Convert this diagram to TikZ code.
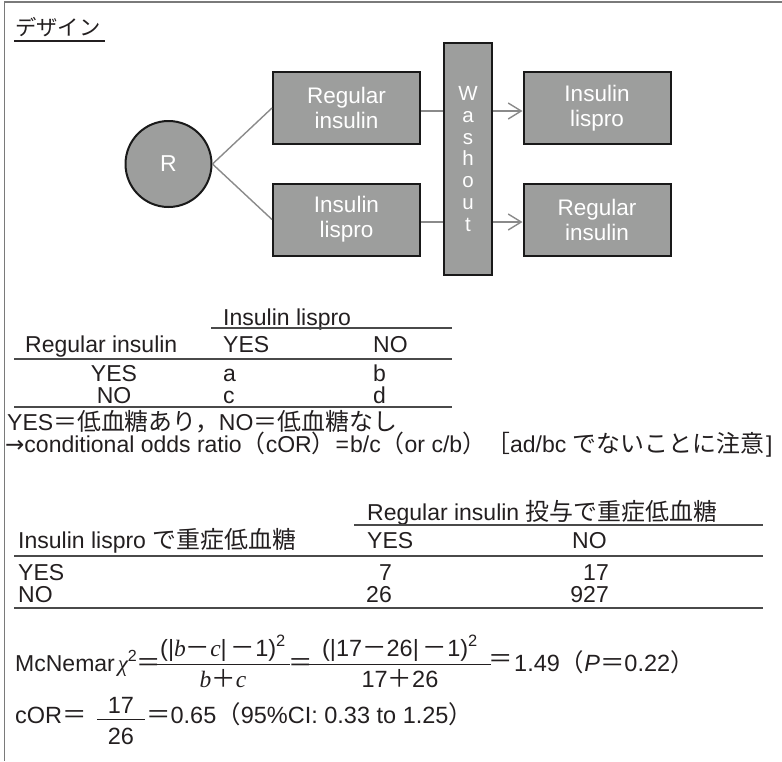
\documentclass[tikz,border=0pt]{standalone}
\usepackage{fontspec}
\setmainfont{Liberation Sans}
\newfontfamily\jp[Scale=1.04]{Noto Sans CJK JP}
\newfontfamily\mserif{Liberation Serif}
\newfontfamily\dv{DejaVu Sans}
\usetikzlibrary{arrows.meta}
\definecolor{boxgray}{HTML}{9D9E9D}
\definecolor{linkgray}{HTML}{8A8A8A}
\definecolor{rulegray}{HTML}{4A4A4A}
\definecolor{framegray}{HTML}{7A7A7A}
\definecolor{ink}{HTML}{231F20}
\newcommand{\fs}[1]{\fontsize{#1}{#1}\selectfont}
\newcommand{\vi}[1]{{\mserif\itshape #1}}
\begin{document}
\begin{tikzpicture}[x=1pt,y=-1pt,
  txt/.style={inner sep=0pt, anchor=base west, text=ink, font=\fs{23}},
  ctxt/.style={txt, anchor=base},
  rtxt/.style={txt, anchor=base east},
  ftxt/.style={txt, font=\fs{23.5}},
  cftxt/.style={ftxt, anchor=base},
  box/.style={draw=black!90, line width=2pt, fill=boxgray, text=white,
    minimum width=147pt, minimum height=72pt, align=center, inner sep=0pt,
    font=\fontsize{22.5}{25}\selectfont},
  link/.style={draw=linkgray, line width=1.4pt},
  arr/.style={link, -{Straight Barb[length=13pt,width=16pt,line width=1.4pt]}},
  rulel/.style={draw=rulegray, line width=1.2pt},
  fbar/.style={draw=ink, line width=1pt}]
\useasboundingbox (0,0) rectangle (782,761);
% frame
\draw[framegray, line width=1.5pt] (782,2) -- (4.5,2) -- (4.5,761);

% title
\node[txt, font=\fs{20.5}] (title) at (15,35) {\jp デザイン};
\draw[ink, line width=1.1pt] (14,41) -- (105,41);

% design diagram
\node[circle, draw=black!90, line width=2pt, fill=boxgray, text=white,
  minimum size=86pt, inner sep=0pt, font=\fs{23}] (R) at (168.5,164) {R};
\node[box] (b1) at (346.5,108) {Regular\\insulin};
\node[box] (b2) at (346.5,219.5) {Insulin\\lispro};
\node[box] (b3) at (597,108) {Insulin\\lispro};
\node[box] (b4) at (597,219.5) {Regular\\insulin};
\node[draw=black!90, line width=2pt, fill=boxgray, text=white,
  minimum width=48pt, minimum height=232pt, inner sep=0pt, align=center,
  font=\fontsize{20.5}{21.7}\selectfont] (wash) at (468,159)
  {W\\a\\s\\h\\o\\u\\t};
\draw[link] (R.east) -- (b1.west);
\draw[link] (R.east) -- (b2.west);
\coordinate (l1) at ([yshift=-3pt]b1.east);
\coordinate (l2) at ([yshift=-2.5pt]b2.east);
\draw[link] (l1) -- (l1 -| wash.west);
\draw[link] (l2) -- (l2 -| wash.west);
\draw[arr] (l1 -| wash.east) -- (l1 -| b3.west);
\draw[arr] (l2 -| wash.east) -- (l2 -| b4.west);

% table 1
\node[txt] (t1h) at (223,325) {Insulin lispro};
\draw[rulel] (211,328) -- (452,328);
\node[txt] (t1r) at (25,352) {Regular insulin};
\node[txt] (t1y) at (223,352) {YES};
\node[txt] (t1n) at (373,352) {NO};
\draw[rulel] (14,359) -- (452,359);
\node[ctxt] (t1ry) at (114,381) {YES};
\node[txt] (t1a) at (223,381) {a};
\node[txt] (t1b) at (373,381) {b};
\node[ctxt] (t1rn) at (114,403) {NO};
\node[txt] (t1c) at (223,403) {c};
\node[txt] (t1d) at (373,403) {d};
\draw[rulel] (14,407) -- (452,407);
\node[txt] (fn1) at (7,430) {YES{\jp ＝低血糖あり，}NO{\jp ＝低血糖なし}};
\node[txt] (fn2) at (5,452) {{\dv →}conditional odds ratio{\jp （}cOR{\jp ）}={\kern1pt}b/c{\jp （}or c/b{\jp ）［}ad/bc {\jp でないことに注意}\kern2pt]};

% table 2
\node[txt] (t2h) at (367,520) {Regular insulin {\jp 投与で重症低血糖}};
\draw[rulel] (354,525) -- (763,525);
\node[txt] (t2r) at (18,548) {Insulin lispro {\jp で重症低血糖}};
\node[txt] (t2y) at (367,548) {YES};
\node[txt] (t2n) at (572,548) {NO};
\draw[rulel] (14,556) -- (763,556);
\node[txt] (t2ry) at (18,580) {YES};
\node[rtxt] (t2a) at (392,580) {7};
\node[rtxt] (t2b) at (609,580) {17};
\node[txt] (t2rn) at (18,602) {NO};
\node[rtxt] (t2c) at (392,602) {26};
\node[rtxt] (t2d) at (609,602) {927};
\draw[rulel] (14,608) -- (763,608);

% McNemar
\node[txt] (mc) at (15,671) {McNemar\kern3pt\vi{χ}\textsuperscript{2}};
\node[ftxt] (eq1) at (136,671) {\jp ＝};
\node[cftxt] (n1) at (223,656) {(|\vi{b}{\jp －}\vi{c}|\kern4pt{\jp －}1)\textsuperscript{2}};
\draw[fbar] (156,664) -- (290,664);
\node[cftxt] (d1) at (223,687) {\vi{b}{\jp ＋}\vi{c}};
\node[ftxt] (eq2) at (288,671) {\jp ＝};
\node[cftxt] (n2) at (400,656) {(|17{\jp －}26|\kern4pt{\jp －}1)\textsuperscript{2}};
\draw[fbar] (309,664) -- (491,664);
\node[cftxt] (d2) at (400,687) {17{\jp ＋}26};
\node[ftxt] (eq3) at (488,667) {\jp ＝};
\node[ftxt] (res) at (514,671) {1.49{\jp （}\textit{P}{\jp ＝}0.22{\jp ）}};

% cOR
\node[ftxt] (cor) at (15,723) {cOR{\jp ＝}};
\node[cftxt] (n3) at (121,713) {17};
\node[cftxt] (d3) at (121,744) {26};
\draw[fbar] (97,719) -- (145,719);
\node[ftxt] (cres) at (146,723) {{\jp ＝}0.65{\jp （}95\%CI: 0.33 to 1.25{\jp ）}};
\end{tikzpicture}
\end{document}
